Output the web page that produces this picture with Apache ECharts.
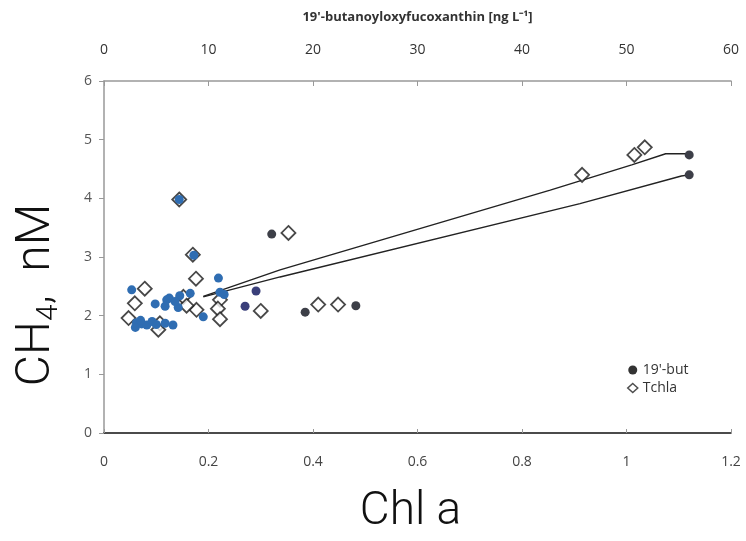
<!DOCTYPE html>
<html><head><meta charset="utf-8">
<script src="https://cdn.jsdelivr.net/npm/echarts@6/dist/echarts.min.js"></script>
<style>html,body{margin:0;padding:0;background:#fff}#c{width:746px;height:541px}</style>
</head><body><div id="c"></div>
<script>
// Tchla (open diamonds): Chl a [µg/L] vs CH4 [nM]
const tchlaX = [1.035, 1.015, 0.915, 0.353, 0.144, 0.170, 0.176, 0.078, 0.059, 0.047, 0.107, 0.104, 0.152, 0.177, 0.222, 0.218, 0.222, 0.300, 0.410, 0.448, 0.158];
const tchlaY = [4.87, 4.74, 4.40, 3.41, 3.98, 3.04, 2.63, 2.46, 2.21, 1.96, 1.87, 1.76, 2.32, 2.10, 2.27, 2.12, 1.94, 2.08, 2.19, 2.19, 2.17];
// 19'-but (dots), plotted on the Chl a scale (top axis = 50 x bottom axis)
const butX = [1.12, 1.12, 0.321, 0.144, 0.172, 0.219, 0.291, 0.270, 0.385, 0.482, 0.222, 0.230, 0.165, 0.145, 0.125, 0.120, 0.053, 0.098, 0.117, 0.142, 0.190, 0.132, 0.117, 0.062, 0.072, 0.082, 0.092, 0.060, 0.070, 0.100, 0.136];
const butY = [4.74, 4.40, 3.39, 3.98, 3.03, 2.64, 2.42, 2.16, 2.06, 2.17, 2.40, 2.36, 2.38, 2.34, 2.30, 2.27, 2.44, 2.20, 2.16, 2.14, 1.98, 1.84, 1.87, 1.88, 1.86, 1.84, 1.90, 1.80, 1.92, 1.85, 2.24];
// trend lines
const trendUpX = [0.19, 0.337, 0.854, 1.01, 1.075, 1.12];
const trendUpY = [2.33, 2.78, 4.14, 4.57, 4.76, 4.76];
const trendLoX = [0.19, 0.337, 0.911, 1.105, 1.12];
const trendLoY = [2.32, 2.66, 3.91, 4.38, 4.40];
const xTicksBottom = [0, 0.2, 0.4, 0.6, 0.8, 1, 1.2];
const xTicksTop = [0, 10, 20, 30, 40, 50, 60];
const yTicks = [0, 1, 2, 3, 4, 5, 6];

const zip = (a, b) => a.map((v, i) => [v, b[i]]);
const labFont = '"Liberation Sans Narrow","Open Sans",sans-serif';
const bigFont = 'Roboto, "DejaVu Sans", sans-serif';

const chart = echarts.init(document.getElementById('c'), null, {renderer: 'canvas'});
chart.setOption({
  animation: false,
  backgroundColor: '#fff',
  grid: {left: 104, right: 15, top: 81, bottom: 108, containLabel: false, outerBoundsMode: 'none'},
  legend: {
    orient: 'vertical', left: 622, top: 358, itemGap: 4, itemWidth: 10, itemHeight: 9,
    textStyle: {fontFamily: labFont, fontSize: 14, color: '#333'},
    data: [{name: "19'-but", icon: 'circle', itemStyle: {color: '#333'}},
           {name: 'Tchla', icon: 'diamond', itemStyle: {color: '#fff', borderColor: '#222', borderWidth: 1.5}}]
  },
  graphic: [{
    type: 'text', x: 37, y: 295, rotation: Math.PI / 2,
    style: {
      text: '{a|CH}{s|4}{a|,  nM}', align: 'center', verticalAlign: 'middle',
      rich: {
        a: {fontFamily: bigFont, fontWeight: 300, fontSize: 48, fill: '#111', color: '#111'},
        s: {fontFamily: bigFont, fontWeight: 300, fontSize: 30, fill: '#111', color: '#111', padding: [24, 0, 0, 0]}
      }
    }
  }],
  xAxis: [{
    type: 'value', position: 'bottom', min: xTicksBottom[0], max: xTicksBottom[xTicksBottom.length - 1], interval: 0.2,
    axisLine: {lineStyle: {color: '#111', width: 1.5}},
    axisTick: {show: true, inside: true, length: 4, lineStyle: {color: '#999'}},
    axisLabel: {margin: 22, fontFamily: labFont, fontSize: 14, color: '#444'},
    splitLine: {show: false},
    name: 'Chl a', nameLocation: 'middle', nameGap: 56,
    nameTextStyle: {fontFamily: bigFont, fontWeight: 300, fontSize: 46, color: '#111', padding: [0, 14, 0, 0]}
  }, {
    type: 'value', position: 'top', min: xTicksTop[0], max: xTicksTop[xTicksTop.length - 1], interval: 10,
    axisLine: {lineStyle: {color: '#999', width: 1.5}},
    axisTick: {show: true, inside: true, length: 5, lineStyle: {color: '#999'}},
    axisLabel: {margin: 24, fontFamily: labFont, fontSize: 14, color: '#333'},
    splitLine: {show: false},
    name: "19'-butanoyloxyfucoxanthin [ng L⁻¹]", nameLocation: 'middle', nameGap: 57,
    nameTextStyle: {fontFamily: labFont, fontWeight: 'bold', fontSize: 13, color: '#333'}
  }],
  yAxis: {
    type: 'value', min: yTicks[0], max: yTicks[yTicks.length - 1], interval: 1,
    axisLine: {show: true, lineStyle: {color: '#999', width: 1.5}},
    axisTick: {show: true, length: 5, lineStyle: {color: '#999'}},
    axisLabel: {margin: 12, fontFamily: labFont, fontSize: 14, color: '#555'},
    splitLine: {show: false}
  },
  series: [{
    name: 'fit Tchla', type: 'line', xAxisIndex: 0, data: zip(trendUpX, trendUpY), showSymbol: false,
    lineStyle: {color: '#222', width: 1.4}, z: 3, silent: true
  }, {
    name: 'fit but', type: 'line', xAxisIndex: 0, data: zip(trendLoX, trendLoY), showSymbol: false,
    lineStyle: {color: '#222', width: 1.4}, z: 3, silent: true
  }, {
    name: 'Tchla', type: 'scatter', xAxisIndex: 0, data: zip(tchlaX, tchlaY), symbol: 'diamond', symbolSize: 14,
    itemStyle: {color: '#fff', borderColor: '#1a1a1a', borderWidth: 1.8}, z: 4
  }, {
    name: "19'-but", type: 'scatter', xAxisIndex: 0, data: zip(butX, butY), symbol: 'circle', symbolSize: 9,
    itemStyle: {color: p => p.value[0] < 0.25 ? '#2f6db2' : (p.value[0] < 0.3 ? '#3a3f7a' : '#3d3f48'), opacity: 1}, z: 5
  }]
});
</script></body></html>
